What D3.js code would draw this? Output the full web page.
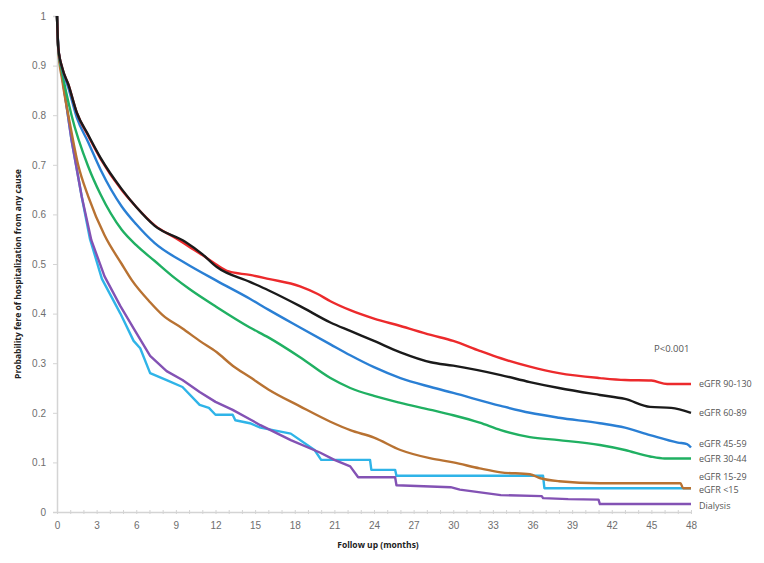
<!DOCTYPE html>
<html>
<head>
<meta charset="utf-8">
<script src="https://cdn.jsdelivr.net/npm/d3@7"></script>
<style>
  html, body { margin: 0; padding: 0; background: #fff; }
  svg { display: block; font-family: "Open Sans", "Liberation Sans", sans-serif; }
</style>
</head>
<body>
<svg id="chart" width="764" height="563"></svg>
<script>
// ---------- DATA (months, probability) ----------
const xTicks = [0, 3, 6, 9, 12, 15, 18, 21, 24, 27, 30, 33, 36, 39, 42, 45, 48];
const yTicks = [0, 0.1, 0.2, 0.3, 0.4, 0.5, 0.6, 0.7, 0.8, 0.9, 1];

const egfr90_130 = [[0,1],[0.1,0.935],[0.4,0.895],[0.86,0.862],[1.5,0.805],[2.37,0.758],[3.3,0.712],[4.9,0.649],[6,0.615],[7.4,0.578],[9,0.552],[10,0.535],[11,0.518],[12,0.50],[13,0.485],[14.6,0.478],[16,0.47],[18.4,0.455],[19.7,0.44],[20.7,0.425],[22.2,0.407],[24,0.39],[26,0.375],[28.3,0.357],[30,0.345],[32,0.325],[33.6,0.31],[35.8,0.293],[38,0.28],[41.1,0.27],[43,0.266],[45,0.265],[46.2,0.258],[48,0.258]];
const egfr60_89 = [[0,1],[0.1,0.935],[0.4,0.895],[0.86,0.862],[1.5,0.805],[2.37,0.76],[3.3,0.714],[4.9,0.651],[6,0.615],[7.4,0.577],[9.7,0.545],[11,0.52],[12.1,0.494],[14.6,0.464],[16,0.447],[18.4,0.415],[20.7,0.382],[22.2,0.365],[24,0.345],[26,0.322],[28.3,0.302],[30,0.295],[33.6,0.276],[35.8,0.262],[38,0.25],[41.1,0.236],[43,0.228],[44.9,0.212],[46.5,0.21],[48,0.2]];
const egfr45_59 = [[0,1],[0.1,0.935],[0.4,0.893],[0.86,0.855],[1.5,0.795],[2.37,0.745],[3.3,0.69],[4.9,0.616],[6,0.58],[7.4,0.542],[9.7,0.502],[12.1,0.466],[14.6,0.43],[16,0.408],[18.4,0.372],[20.7,0.338],[22.2,0.316],[24,0.292],[26,0.27],[28.3,0.252],[30,0.24],[33.6,0.214],[35.8,0.2],[38,0.19],[41.1,0.179],[43,0.17],[44.9,0.155],[47,0.14],[47.7,0.137],[48,0.13]];
const egfr30_44 = [[0,1],[0.1,0.933],[0.4,0.885],[1.1,0.80],[2.37,0.696],[3.3,0.64],[4.9,0.569],[6,0.538],[7.4,0.506],[8.9,0.472],[10,0.45],[12.1,0.413],[14.6,0.372],[16,0.352],[18.4,0.312],[20.7,0.27],[22.2,0.25],[24,0.234],[26,0.22],[28.3,0.206],[30,0.195],[32,0.18],[33.6,0.165],[35.8,0.151],[38,0.145],[41.1,0.135],[43,0.125],[44.9,0.112],[46,0.108],[48,0.108]];
const egfr15_29 = [[0,1],[0.1,0.93],[0.4,0.87],[1,0.78],[1.6,0.70],[2.37,0.636],[3.6,0.558],[4.9,0.50],[5.65,0.468],[7.05,0.423],[8,0.397],[9.5,0.37],[10.8,0.345],[12.1,0.322],[13.3,0.295],[14.6,0.272],[16,0.247],[18.4,0.213],[20.7,0.182],[22.2,0.165],[24,0.15],[26,0.125],[28.3,0.108],[30,0.1],[32,0.088],[33.6,0.08],[35.8,0.076],[36.6,0.068],[38,0.062],[41.1,0.058],[47.2,0.058],[47.4,0.048],[48,0.048]];
const egfrLt15 = [[0,1],[0.1,0.93],[0.36,0.885],[1.1,0.75],[1.87,0.636],[2.5,0.55],[3.4,0.47],[4.8,0.40],[5.8,0.345],[6.3,0.33],[7.05,0.28],[8.3,0.266],[9.5,0.252],[10.8,0.216],[11.5,0.21],[12,0.196],[13.3,0.196],[13.5,0.185],[14.6,0.179],[15.4,0.17],[17.7,0.158],[19.5,0.125],[20,0.105],[23.7,0.105],[23.8,0.085],[25.6,0.085],[25.7,0.073],[36.8,0.073],[36.9,0.048],[48,0.048]];
const dialysis = [[0,1],[0.1,0.93],[0.36,0.885],[1.1,0.75],[1.87,0.636],[2.6,0.548],[3.6,0.475],[4.8,0.415],[5.8,0.37],[7.05,0.315],[8.3,0.284],[9.5,0.266],[10.8,0.242],[12,0.222],[13.3,0.206],[14.6,0.187],[15.4,0.175],[17.7,0.145],[19.9,0.12],[21,0.105],[22.2,0.092],[22.8,0.07],[25.6,0.07],[25.7,0.054],[29.8,0.05],[30.5,0.045],[33.6,0.034],[36.7,0.032],[36.8,0.028],[38.7,0.026],[41,0.025],[41.1,0.016],[48,0.016]];

const seriesNames = ["eGFR 90-130", "eGFR 60-89", "eGFR 45-59", "eGFR 30-44", "eGFR 15-29", "eGFR <15", "Dialysis"];
const seriesData = [egfr90_130, egfr60_89, egfr45_59, egfr30_44, egfr15_29, egfrLt15, dialysis];
const seriesColors = ["#ec2a2c", "#1a1a1a", "#2a7fd4", "#20b062", "#b87232", "#2fb4e8", "#8352b4"];
const seriesSmooth = [true, true, true, true, true, false, false];
const labelValues = [0.258, 0.199, 0.137, 0.108, 0.07, 0.044, 0.012];
const pText = "P<0.001";
const pPos = [45.2, 0.33];

// ---------- LAYOUT ----------
const svg = d3.select("#chart");
const x = d3.scaleLinear().domain([0, 48]).range([57, 691]);
const y = d3.scaleLinear().domain([0, 1]).range([512, 16]);
const axisColor = "#d4d4d4";
const textColor = "#6e6e6e";

// y axis
const yAxis = d3.axisLeft(y).tickValues(yTicks).tickSize(4).tickPadding(7)
  .tickFormat(d => d === 0 ? "0" : d === 1 ? "1" : d3.format(".1f")(d));
const gy = svg.append("g").attr("transform", `translate(${x(0)},0)`).call(yAxis);
gy.select(".domain").attr("stroke", axisColor).attr("stroke-width", 1.5);
gy.selectAll(".tick line").attr("stroke", axisColor);
gy.selectAll(".tick text").attr("fill", textColor).attr("font-size", 10);

// x axis: minor monthly ticks, labels every 3
const gxMinor = svg.append("g").attr("transform", `translate(0,${y(0)})`)
  .call(d3.axisBottom(x).tickValues(d3.range(0, 49)).tickSize(3).tickFormat(""));
gxMinor.select(".domain").remove();
gxMinor.selectAll(".tick line").attr("stroke", axisColor).attr("y1", -2).attr("y2", 2);
const gx = svg.append("g").attr("transform", `translate(0,${y(0)})`)
  .call(d3.axisBottom(x).tickValues(xTicks).tickSize(0).tickPadding(10).tickFormat(d3.format("d")));
gx.select(".domain").attr("stroke", axisColor).attr("stroke-width", 1.5);
gx.selectAll(".tick text").attr("fill", textColor).attr("font-size", 10);

// axis titles
svg.append("text").attr("x", 378).attr("y", 548).attr("text-anchor", "middle")
  .attr("font-size", 8.5).attr("font-weight", "bold").attr("fill", "#222")
  .text("Follow up (months)");
svg.append("text").attr("transform", "translate(21,274) rotate(-90)").attr("text-anchor", "middle")
  .attr("font-size", 8.5).attr("font-weight", "bold").attr("fill", "#222")
  .text("Probability fere of hospitalization from any cause");

// lines
const smoothLine = d3.line().x(d => x(d[0])).y(d => y(d[1])).curve(d3.curveMonotoneX);
const stepLine = d3.line().x(d => x(d[0])).y(d => y(d[1])).curve(d3.curveLinear);
const order = [5, 6, 4, 3, 2, 0, 1];
order.forEach(i => {
  svg.append("path").datum(seriesData[i])
    .attr("fill", "none").attr("stroke", seriesColors[i]).attr("stroke-width", 2.4)
    .attr("stroke-linejoin", "round")
    .attr("d", seriesSmooth[i] ? smoothLine : stepLine);
});

// right labels
seriesNames.forEach((n, i) => {
  svg.append("text").attr("x", x(48) + 8).attr("y", y(labelValues[i])).attr("dy", "0.35em")
    .attr("font-size", 9).attr("fill", "#555").text(n);
});

svg.append("text").attr("x", x(pPos[0])).attr("y", y(pPos[1])).attr("dy", "0.35em")
  .attr("font-size", 9.5).attr("fill", "#555").text(pText);
</script>
</body>
</html>
